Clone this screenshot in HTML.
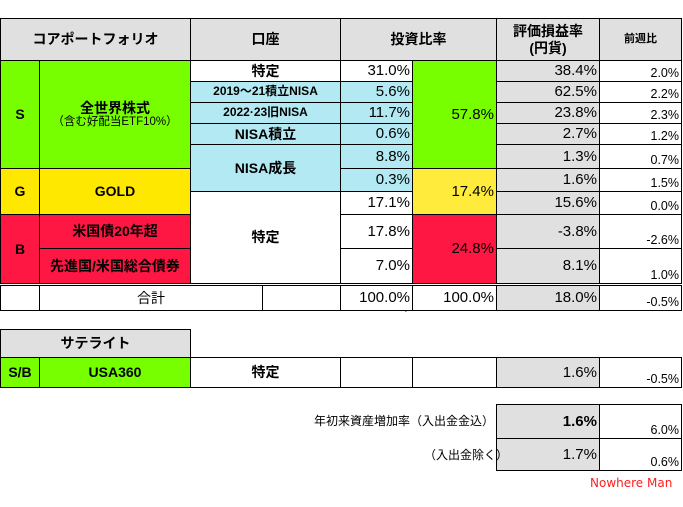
<!DOCTYPE html>
<html><head><meta charset="utf-8">
<style>
body{margin:0;width:683px;height:507px;background:#fff;position:relative;overflow:hidden;font-family:"Liberation Sans","Noto Sans CJK JP",sans-serif;}
.c{position:absolute;box-sizing:border-box;border:1px solid #000;display:flex;align-items:center;justify-content:center;color:#000;font-size:13px;line-height:1.15;text-align:center;}
.b{font-weight:bold;}
.h{font-size:14px;}
.r{justify-content:flex-end;padding-right:2px;font-size:15px;}
.w{justify-content:flex-end;align-items:flex-end;padding-right:2px;padding-bottom:1px;font-size:12.5px;}
.t{position:absolute;font-size:13px;}
</style></head><body>
<div id="root"></div>
<script>
const pctLabels=['31.0%','5.6%','11.7%','0.6%','8.8%','0.3%','17.1%','17.8%','7.0%'];
const evalLabels=['38.4%','62.5%','23.8%','2.7%','1.3%','1.6%','15.6%','-3.8%','8.1%'];
const weekLabels=['2.0%','2.2%','2.3%','1.2%','0.7%','1.5%','0.0%','-2.6%','1.0%'];
const rowY=[60,81,102,123,144,168,191,214,248,283];
const G='#77ff00',Y='#ffe800',Y2='#ffeb3b',R='#ff1744',BL='#b3e9f2',GR='#e0e0e0',W='#fff';
function cell(x1,y1,x2,y2,bg,html,cls,name){
  const d=document.createElement('div');
  d.className='c '+(cls||'');
  d.style.left=x1+'px';d.style.top=y1+'px';
  d.style.width=(x2-x1+1)+'px';d.style.height=(y2-y1+1)+'px';
  d.style.background=bg;d.innerHTML=html;
  
  
  document.body.appendChild(d);return d;
}
cell(0,18,190,60,GR,'コアポートフォリオ','b h','header-core-portfolio');
cell(190,18,340,60,GR,'口座','b h','header-account');
cell(340,18,496,60,GR,'投資比率','b h','header-investment-ratio');
cell(496,18,599,60,GR,'評価損益率<br>(円貨)','b h','header-gain-rate');
cell(599,18,681,60,GR,'<span style="font-size:11px">前週比</span>','b','header-weekly-change');
cell(0,60,39,168,G,'S','b h','class-s');
cell(39,60,190,168,G,'<div><div style="font-size:14px">全世界株式</div><div style="font-weight:normal;font-size:11.5px">（含む好配当ETF10%）</div></div>','b','asset-world-stocks');
cell(0,168,39,214,Y,'G','b h','class-g');
cell(39,168,190,214,Y,'GOLD','b h','asset-gold');
cell(0,214,39,283,R,'B','b h','class-b');
cell(39,214,190,248,R,'米国債20年超','b h','asset-us-treasury');
cell(39,248,190,283,R,'先進国/米国総合債券','b h','asset-bonds');
cell(190,60,340,81,W,'<span style="font-size:14px">特定</span>','b','account-tokutei');
cell(190,81,340,102,BL,'<span style="font-size:12px">2019～21積立NISA</span>','b','account-nisa-2019');
cell(190,102,340,123,BL,'<span style="font-size:12px">2022·23旧NISA</span>','b','account-nisa-2022');
cell(190,123,340,144,BL,'<span style="font-size:14px">NISA積立</span>','b','account-nisa-tsumitate');
cell(190,144,340,191,BL,'<span style="font-size:14px">NISA成長</span>','b','account-nisa-growth');
cell(190,191,340,283,W,'<span style="font-size:14px">特定</span>','b','account-tokutei-2');
for(let i=0;i<pctLabels.length;i++){
  const bg=(i>=1&&i<=5)?BL:W;
  cell(340,rowY[i],412,rowY[i+1],bg,pctLabels[i],'r','pct-'+i);
  cell(496,rowY[i],599,rowY[i+1],GR,evalLabels[i],'r','eval-'+i);
  cell(599,rowY[i],681,rowY[i+1],W,weekLabels[i],'w','week-'+i);
}
cell(412,60,496,168,G,'57.8%','r','group-s-pct');
cell(412,168,496,214,Y2,'17.4%','r','group-g-pct');
cell(412,214,496,283,R,'24.8%','r','group-b-pct');
cell(0,285,39,310,W,'','','total-blank');
cell(39,285,262,310,W,'合計','h','total-label');
cell(262,285,340,310,W,'','','total-blank-2');
cell(340,285,412,310,W,'100.0%','r','total-pct');
cell(412,285,496,310,W,'100.0%','r','total-group-pct');
cell(496,285,599,310,GR,'18.0%','r','total-eval');
cell(599,285,681,310,W,'-0.5%','w','total-week');
cell(0,329,190,357,GR,'サテライト','b h','header-satellite');
cell(0,357,39,387,G,'<span style="font-size:14px">S/B</span>','b','class-sb');
cell(39,357,190,387,G,'<span style="font-size:14px">USA360</span>','b','asset-usa360');
cell(190,357,340,387,W,'<span style="font-size:14px">特定</span>','b','account-tokutei-sat');
cell(340,357,412,387,W,'','','sat-pct');
cell(412,357,496,387,W,'','','sat-group');
cell(496,357,599,387,GR,'1.6%','r','sat-eval');
cell(599,357,681,387,W,'-0.5%','w','sat-week');
cell(496,404,599,438,GR,'<b>1.6%</b>','r','ytd-incl');
cell(599,404,681,438,W,'6.0%','w','ytd-incl-week');
cell(496,438,599,470,GR,'1.7%','r','ytd-excl');
cell(599,438,681,470,W,'0.6%','w','ytd-excl-week');
</script>
<div class="t" style="left:314px;top:412px;font-size:12px">年初来資産増加率（入出金金込）</div>
<div class="t" style="left:424px;top:446px;font-size:12px">（入出金除く）</div>
<div class="t" style="left:590px;top:476px;font-size:12px;color:#ff2020;font-family:'DejaVu Sans',sans-serif">Nowhere Man</div>
<div class="t" style="left:404px;top:310px;font-size:10px">`</div>
</body></html>
